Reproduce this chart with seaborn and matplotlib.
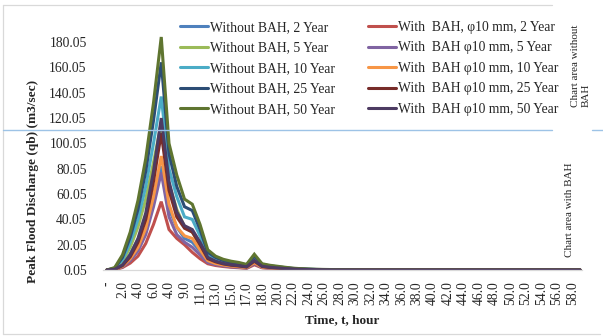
import matplotlib
matplotlib.use("Agg")
import matplotlib.pyplot as plt
import seaborn as sns
import pandas as pd
from matplotlib.lines import Line2D

# ---------------- data ----------------
tick_labels = ["-", "2.0", "4.0", "6.0", "4.0", "9.0", "11.0", "13.0", "15.0", "17.0",
               "18.0", "20.0", "22.0", "24.0", "26.0", "28.0", "30.0", "32.0", "34.0", "36.0",
               "38.0", "40.0", "42.0", "44.0", "46.0", "48.0", "50.0", "52.0", "54.0", "56.0", "58.0"]

without_2 = [0.05, 0.8, 5, 13, 24, 40, 60, 82, 48, 34, 25, 22, 15, 7.5, 5.2, 4, 3.2, 2.7, 2, 6,
             2.4, 1.8, 1.4, 1, 0.7, 0.5, 0.4, 0.3, 0.2, 0.15, 0.1, 0.08, 0.06,
             0.05, 0.05, 0.05, 0.05, 0.05, 0.05, 0.05, 0.05, 0.05, 0.05,
             0.05, 0.05, 0.05, 0.05, 0.05, 0.05, 0.05, 0.05, 0.05, 0.05,
             0.05, 0.05, 0.05, 0.05, 0.05, 0.05, 0.05, 0.05, 0.05]
without_5 = [0.05, 1, 7, 18, 34, 56, 85, 116, 68, 48, 34, 30, 20, 10, 7, 5.5, 4.3, 3.6, 2.8, 8,
             3.2, 2.4, 1.9, 1.4, 1, 0.7, 0.5, 0.4, 0.3, 0.2, 0.15, 0.1, 0.07,
             0.05, 0.05, 0.05, 0.05, 0.05, 0.05, 0.05, 0.05, 0.05, 0.05,
             0.05, 0.05, 0.05, 0.05, 0.05, 0.05, 0.05, 0.05, 0.05, 0.05,
             0.05, 0.05, 0.05, 0.05, 0.05, 0.05, 0.05, 0.05, 0.05]
without_10 = [0.05, 1.2, 8, 22, 40, 66, 100, 137, 80, 58, 42, 40, 27, 12, 8.5, 6.5, 5, 4.2, 3.3, 9.5,
              3.8, 2.8, 2.2, 1.6, 1.1, 0.8, 0.6, 0.45, 0.35, 0.25, 0.2, 0.12, 0.08,
              0.05, 0.05, 0.05, 0.05, 0.05, 0.05, 0.05, 0.05, 0.05, 0.05,
              0.05, 0.05, 0.05, 0.05, 0.05, 0.05, 0.05, 0.05, 0.05, 0.05,
              0.05, 0.05, 0.05, 0.05, 0.05, 0.05, 0.05, 0.05, 0.05]
without_25 = [0.05, 1.5, 10, 26, 48, 78, 118, 164, 92, 66, 50, 47, 32, 14, 10, 7.5, 6, 5, 4, 11,
              4.5, 3.3, 2.6, 1.9, 1.3, 0.9, 0.7, 0.5, 0.4, 0.3, 0.2, 0.15, 0.1,
              0.05, 0.05, 0.05, 0.05, 0.05, 0.05, 0.05, 0.05, 0.05, 0.05,
              0.05, 0.05, 0.05, 0.05, 0.05, 0.05, 0.05, 0.05, 0.05, 0.05,
              0.05, 0.05, 0.05, 0.05, 0.05, 0.05, 0.05, 0.05, 0.05]
without_50 = [0.05, 2, 12, 30, 55, 88, 132, 184, 100, 75, 56, 52, 36, 16, 11, 8.5, 7, 6, 4.5, 12.5,
              5, 3.8, 3, 2.2, 1.5, 1.1, 0.8, 0.6, 0.5, 0.4, 0.3, 0.2, 0.1,
              0.05, 0.05, 0.05, 0.05, 0.05, 0.05, 0.05, 0.05, 0.05, 0.05,
              0.05, 0.05, 0.05, 0.05, 0.05, 0.05, 0.05, 0.05, 0.05, 0.05,
              0.05, 0.05, 0.05, 0.05, 0.05, 0.05, 0.05, 0.05, 0.05]
with_2 = [0.05, 0.3, 2, 5.5, 11, 21, 36, 54, 32, 25, 20, 14, 9, 5, 3.6, 2.8, 2.2, 1.8, 1.3, 4.2,
          1.8, 1.3, 1, 0.7, 0.5, 0.35, 0.25, 0.2, 0.15, 0.1, 0.08, 0.06, 0.05,
          0.05, 0.05, 0.05, 0.05, 0.05, 0.05, 0.05, 0.05, 0.05, 0.05,
          0.05, 0.05, 0.05, 0.05, 0.05, 0.05, 0.05, 0.05, 0.05, 0.05,
          0.05, 0.05, 0.05, 0.05, 0.05, 0.05, 0.05, 0.05, 0.05]
with_5 = [0.05, 0.35, 2.5, 7.5, 15, 28, 50, 77, 42, 28, 22, 18, 12, 6, 4.3, 3.3, 2.6, 2.1, 1.6, 5,
          2, 1.5, 1.1, 0.8, 0.6, 0.4, 0.3, 0.22, 0.16, 0.12, 0.09, 0.07, 0.05,
          0.05, 0.05, 0.05, 0.05, 0.05, 0.05, 0.05, 0.05, 0.05, 0.05,
          0.05, 0.05, 0.05, 0.05, 0.05, 0.05, 0.05, 0.05, 0.05, 0.05,
          0.05, 0.05, 0.05, 0.05, 0.05, 0.05, 0.05, 0.05, 0.05]
with_10 = [0.05, 0.4, 3, 9, 18, 33, 58, 90, 52, 34, 27, 25, 16, 7.5, 5.2, 4, 3.2, 2.6, 2, 5.8,
           2.3, 1.7, 1.3, 0.9, 0.65, 0.45, 0.33, 0.25, 0.18, 0.13, 0.1, 0.07, 0.05,
           0.05, 0.05, 0.05, 0.05, 0.05, 0.05, 0.05, 0.05, 0.05, 0.05,
           0.05, 0.05, 0.05, 0.05, 0.05, 0.05, 0.05, 0.05, 0.05, 0.05,
           0.05, 0.05, 0.05, 0.05, 0.05, 0.05, 0.05, 0.05, 0.05]
with_25 = [0.05, 0.5, 3.5, 10.5, 22, 40, 70, 108, 63, 42, 33, 30, 20, 9, 6.5, 4.8, 3.8, 3.2, 2.4, 7,
           2.8, 2, 1.5, 1.1, 0.8, 0.55, 0.4, 0.3, 0.22, 0.16, 0.12, 0.08, 0.05,
           0.05, 0.05, 0.05, 0.05, 0.05, 0.05, 0.05, 0.05, 0.05, 0.05,
           0.05, 0.05, 0.05, 0.05, 0.05, 0.05, 0.05, 0.05, 0.05, 0.05,
           0.05, 0.05, 0.05, 0.05, 0.05, 0.05, 0.05, 0.05, 0.05]
with_50 = [0.05, 0.6, 4, 12, 25, 45, 78, 120, 70, 46, 35, 32, 22, 10, 7, 5.2, 4.2, 3.5, 2.6, 7.5,
           3, 2.2, 1.7, 1.2, 0.9, 0.6, 0.45, 0.33, 0.25, 0.18, 0.13, 0.09, 0.06,
           0.05, 0.05, 0.05, 0.05, 0.05, 0.05, 0.05, 0.05, 0.05, 0.05,
           0.05, 0.05, 0.05, 0.05, 0.05, 0.05, 0.05, 0.05, 0.05, 0.05,
           0.05, 0.05, 0.05, 0.05, 0.05, 0.05, 0.05, 0.05, 0.05]

without_names = ["Without BAH, 2 Year", "Without BAH, 5 Year", "Without BAH, 10 Year",
                 "Without BAH, 25 Year", "Without BAH, 50 Year"]
with_names = ["With  BAH, \u03c610 mm, 2 Year", "With  BAH \u03c610 mm, 5 Year",
              "With  BAH \u03c610 mm, 10 Year", "With  BAH \u03c610 mm, 25 Year",
              "With  BAH \u03c610 mm, 50 Year"]
y_tick_values = [0.05, 20.05, 40.05, 60.05, 80.05, 100.05, 120.05, 140.05, 160.05, 180.05]

# ---------------- style ----------------
sns.set_style("white")
plt.rcParams["font.family"] = ["Liberation Serif", "DejaVu Serif"]

without_colors = ["#4F81BD", "#9BBB59", "#4BACC6", "#2C4D75", "#5F7530"]
with_colors = ["#C0504D", "#8064A2", "#F79646", "#772C2A", "#4D3B62"]

fig = plt.figure(figsize=(6.03, 3.36), dpi=100)
ax = fig.add_axes([0.1716, 0.19643, 0.7929, 0.7161])

without_series = [without_2, without_5, without_10, without_25, without_50]
with_series = [with_2, with_5, with_10, with_25, with_50]

handles = {}
for k in range(5):
    for name, vals, col in [(without_names[k], without_series[k], without_colors[k]),
                            (with_names[k], with_series[k], with_colors[k])]:
        df = pd.DataFrame({"idx": list(range(len(vals))), "q": vals})
        sns.lineplot(data=df, x="idx", y="q", color=col, linewidth=2.2, ax=ax,
                     legend=False, solid_joinstyle="miter")
        handles[name] = Line2D([0], [0], color=col, linewidth=2.2)

ax.set_xlim(-0.45, 61.2)
ax.set_ylim(0.05, 190.0)
ax.set_xticks(list(range(0, 62, 2)))
ax.set_xticklabels(tick_labels, rotation=90, fontsize=9.8)
ax.set_yticks(y_tick_values)
ax.set_yticklabels([f"{v:.2f}" for v in y_tick_values], fontsize=9.8)
ax.tick_params(axis="both", length=0)
ax.tick_params(axis="y", pad=12)
ax.tick_params(axis="x", pad=8)
for s in ["left", "top", "right"]:
    ax.spines[s].set_visible(False)
ax.spines["bottom"].set_color("#D9D9D9")
ax.spines["bottom"].set_linewidth(0.9)
ax.grid(False)

ax.set_xlabel("Time, t, hour", fontsize=9.5, fontweight="bold")
ax.xaxis.set_label_coords(0.5, -0.183)
ax.set_ylabel("Peak Flood Discharge (qb) (m3/sec)", fontsize=9.6, fontweight="bold")
ax.yaxis.set_label_coords(-0.134, 0.37)

order = without_names + with_names
leg = ax.legend([handles[n] for n in order], order, ncol=2, loc="upper left",
                bbox_to_anchor=(180 / 603, 1 - 21 / 336), bbox_transform=fig.transFigure,
                frameon=False, fontsize=9.8, handlelength=2.05, handletextpad=0.15,
                labelspacing=0.55, columnspacing=2.45, borderpad=0, borderaxespad=0)

# figure decorations
W, H = 603.0, 336.0
def fx(x):
    return x / W
def fy(y):
    return 1 - y / H

border = "#D9D9D9"
fig.add_artist(Line2D([fx(3), fx(552)], [fy(5), fy(5)], color=border, lw=0.9))
fig.add_artist(Line2D([fx(3), fx(3)], [fy(5), fy(334)], color=border, lw=0.9))
fig.add_artist(Line2D([fx(3), fx(600)], [fy(334), fy(334)], color=border, lw=0.9))

divider = "#9DC3E6"
fig.add_artist(Line2D([fx(3), fx(552)], [fy(130), fy(130)], color=divider, lw=1.0, zorder=5))
fig.add_artist(Line2D([fx(592), fx(603)], [fy(130), fy(130)], color=divider, lw=1.0, zorder=5))

fig.text(fx(581), fy(107), "Chart area without\nBAH", rotation=90, ha="center", va="bottom",
         multialignment="left", fontsize=8, linespacing=1.25)
fig.text(fx(570), fy(257), "Chart area with BAH", rotation=90, ha="center", va="bottom",
         fontsize=8)

fig.savefig("out.png", dpi=100)
